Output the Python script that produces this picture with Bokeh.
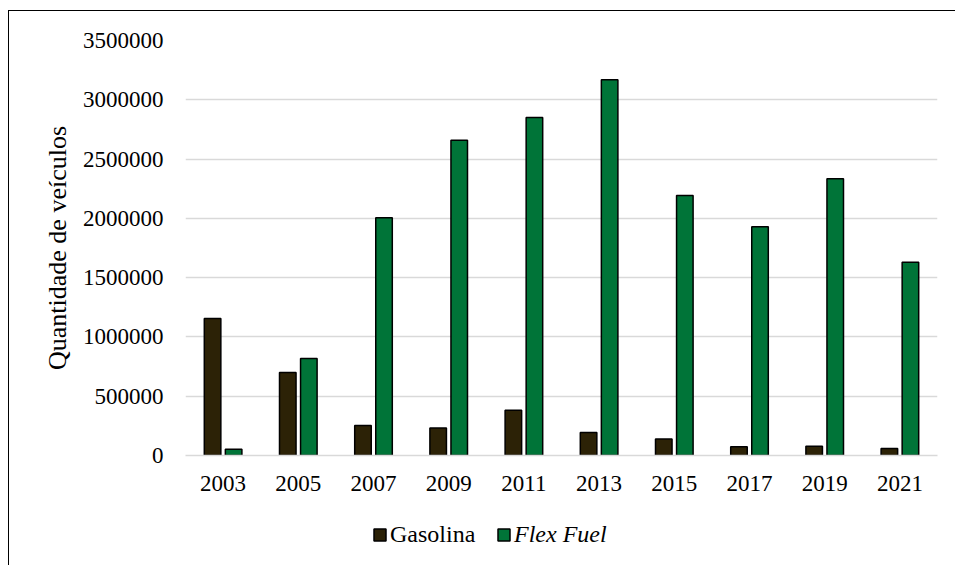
from bokeh.plotting import figure
from bokeh.layouts import column
from bokeh.models import FactorRange, Legend, LegendItem, FixedTicker, NumeralTickFormatter
from bokeh.transform import dodge
from bokeh.embed import file_html
from bokeh.resources import INLINE
from bokeh.models import ColumnDataSource

years = ["2003", "2005", "2007", "2009", "2011", "2013", "2015", "2017", "2019", "2021"]
gasolina = [1155000, 700000, 252000, 232000, 382000, 195000, 140000, 73000, 78000, 58000]
flex_fuel = [52000, 818000, 2006000, 2658000, 2850000, 3170000, 2193000, 1930000, 2335000, 1630000]
y_ticks = [0, 500000, 1000000, 1500000, 2000000, 2500000, 3000000, 3500000]
series_names = ["Gasolina", "Flex Fuel"]

FONT = "Liberation Serif"
C_GAS = "#2C2206"
C_FLEX = "#007438"

src = ColumnDataSource(dict(year=years, gas=gasolina, flex=flex_fuel))

p = figure(x_range=FactorRange(factors=years), y_range=(0, 3500000),
           width=950, height=494, output_backend="svg", toolbar_location=None,
           min_border_left=176, min_border_right=22, min_border_top=29, min_border_bottom=50)

r_gas = p.vbar(x=dodge("year", -0.14, range=p.x_range), top="gas", width=0.22, source=src,
               fill_color=C_GAS, line_color="black", line_width=1.5)
r_flex = p.vbar(x=dodge("year", 0.14, range=p.x_range), top="flex", width=0.22, source=src,
                fill_color=C_FLEX, line_color="black", line_width=1.5)

p.outline_line_color = None
p.xgrid.grid_line_color = None
p.ygrid.grid_line_color = "#d9d9d9"
p.ygrid.grid_line_width = 1.5

p.yaxis.ticker = FixedTicker(ticks=y_ticks)
p.yaxis.formatter = NumeralTickFormatter(format="0")
p.yaxis.axis_line_color = None
p.yaxis.major_tick_line_color = None
p.yaxis.minor_tick_line_color = None
p.yaxis.major_label_standoff = 16
p.yaxis.axis_label = "Quantidade de veículos"
p.yaxis.axis_label_text_font = FONT
p.yaxis.axis_label_text_font_size = "26px"
p.yaxis.axis_label_text_font_style = "normal"
p.yaxis.axis_label_text_color = "black"
p.yaxis.axis_label_standoff = 8

p.xaxis.axis_line_color = "#d9d9d9"
p.xaxis.axis_line_width = 1.5
p.xaxis.major_tick_line_color = None
p.xaxis.minor_tick_line_color = None
p.xaxis.major_label_standoff = 14

for ax in (p.xaxis, p.yaxis):
    ax.major_label_text_font = FONT
    ax.major_label_text_font_size = "23px"
    ax.major_label_text_color = "black"

# legend strip below the chart (its frame is aligned with the chart frame)
pl = figure(width=950, height=60, output_backend="svg", toolbar_location=None,
            min_border_left=0, min_border_right=0, min_border_top=0, min_border_bottom=0,
            x_range=(0, 1), y_range=(0, 1))
pl.axis.visible = False
pl.grid.visible = False
pl.outline_line_color = None
nan = float("nan")
swatch_src = ColumnDataSource(dict(x=[nan], top=[nan]))
lg_gas = pl.vbar(x="x", top="top", width=0.1, source=swatch_src,
                 fill_color=C_GAS, line_color="black", line_width=1.5)
lg_flex = pl.vbar(x="x", top="top", width=0.1, source=swatch_src,
                  fill_color=C_FLEX, line_color="black", line_width=1.5)

leg1 = Legend(items=[LegendItem(label=series_names[0], renderers=[lg_gas])],
              location=(187, 17))
leg2 = Legend(items=[LegendItem(label=series_names[1], renderers=[lg_flex])],
              location=(311, 17))
for lg, style in ((leg1, "normal"), (leg2, "italic")):
    lg.label_text_font = FONT
    lg.label_text_font_size = "24px"
    lg.label_text_font_style = style
    lg.label_text_color = "black"
    lg.label_height = 28
    lg.glyph_width = 15
    lg.glyph_height = 15
    lg.label_standoff = 3
    lg.padding = 0
    lg.margin = 0
    lg.border_line_color = None
    lg.background_fill_alpha = 0
    pl.add_layout(lg, "center")

layout = column(p, pl, spacing=0)
layout.styles = {"margin-left": "8px", "margin-top": "10px",
                 "border-left": "1.5px solid black", "border-top": "1.5px solid black"}

html = file_html(layout, INLINE)
html = html.replace("<body>", '<body style="margin:0;overflow:hidden">', 1)
open("out.html", "w").write(html)
